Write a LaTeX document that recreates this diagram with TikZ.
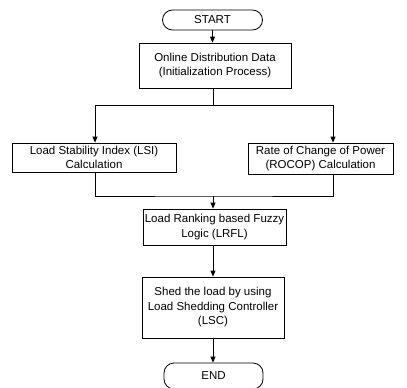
\documentclass[tikz,border=0pt]{standalone}
\usepackage{fontspec}
\setmainfont{Liberation Sans}
\usetikzlibrary{arrows.meta}

\begin{document}
\begin{tikzpicture}[x=1pt,y=-1pt,line width=0.8pt,
  box/.style={draw,align=center,inner sep=1pt,font=\fontsize{11.5}{14.5}\selectfont},
  term/.style={box,rounded corners=10pt},
  arr/.style={-{Triangle[length=6pt,width=5pt]}}]
\useasboundingbox (0,0) rectangle (407,388);
\node[term,minimum width=100pt,minimum height=20pt] (start) at (212.5,20) {START};
\node[box,minimum width=152pt,minimum height=45pt] (init) at (215,65.5) {Online Distribution Data\\(Initialization Process)};
\node[box,minimum width=164pt,minimum height=29pt] (lsi) at (94,157.5) {Load Stability Index (LSI)\\Calculation};
\node[box,minimum width=145pt,minimum height=31pt] (rocop) at (320.5,158.5) {Rate of Change of Power\\(ROCOP) Calculation};
\node[box,minimum width=143pt,minimum height=36pt] (lrfl) at (214.5,227) {Load Ranking based Fuzzy\\Logic (LRFL)};
\node[box,minimum width=142pt,minimum height=61pt] (lsc) at (213,307.5) {Shed the load by using\\Load Shedding Controller\\(LSC)};
\node[term,minimum width=99pt,minimum height=26pt] (end) at (213.5,376) {END};
\coordinate (sp) at (213,105);
\coordinate (l1) at (95,105);
\coordinate (r1) at (333,105);
\coordinate (m) at (213,196);
\draw[arr] (start.south) -- (start.south |- init.north);
\draw (sp |- init.south) -- (sp);
\draw (l1) -- (r1);
\draw[arr] (l1) -- (l1 |- lsi.north);
\draw[arr] (r1) -- (r1 |- rocop.north);
\draw (l1 |- lsi.south) |- (m) -| (r1 |- rocop.south);
\draw[arr] (m) -- (m |- lrfl.north);
\draw[arr] (m |- lrfl.south) -- (m |- lsc.north);
\draw[arr] (m |- lsc.south) -- (m |- end.north);
\end{tikzpicture}
\end{document}
